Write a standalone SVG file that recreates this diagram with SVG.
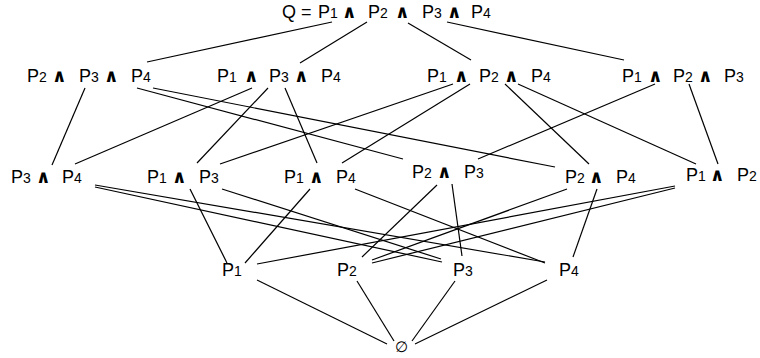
<svg xmlns="http://www.w3.org/2000/svg" width="760" height="358" viewBox="0 0 760 358">
<style>
.t{font-family:"Liberation Sans",Arial,Helvetica,sans-serif;font-size:18px;fill:#000}
.s{font-size:14px}
.a{font-family:"DejaVu Sans",sans-serif;font-weight:bold;font-size:18px}
.e line{stroke:#000;stroke-width:1.2;fill:none}
</style>
<rect width="760" height="358" fill="#fff"/>
<g class="e" id="connectors">
<line x1="332" y1="22" x2="147" y2="62"/>
<line x1="367" y1="22" x2="300" y2="63"/>
<line x1="408" y1="23" x2="471" y2="60"/>
<line x1="447" y1="22" x2="624" y2="60"/>
<line x1="85" y1="88" x2="52" y2="165"/>
<line x1="137" y1="88" x2="403" y2="159"/>
<line x1="153" y1="88" x2="555" y2="167"/>
<line x1="252" y1="88" x2="75" y2="164"/>
<line x1="268" y1="88" x2="197" y2="163"/>
<line x1="285" y1="88" x2="317" y2="163"/>
<line x1="453" y1="84" x2="220" y2="164"/>
<line x1="470" y1="84" x2="342" y2="163"/>
<line x1="505" y1="84" x2="589" y2="164"/>
<line x1="518" y1="84" x2="696" y2="164"/>
<line x1="655" y1="84" x2="478" y2="159"/>
<line x1="689" y1="84" x2="718" y2="164"/>
<line x1="95" y1="185" x2="545" y2="262"/>
<line x1="95" y1="187" x2="442" y2="262"/>
<line x1="190" y1="189" x2="227" y2="263"/>
<line x1="222" y1="189" x2="441" y2="259"/>
<line x1="310" y1="189" x2="245" y2="263"/>
<line x1="355" y1="189" x2="545" y2="263"/>
<line x1="437" y1="185" x2="362" y2="257"/>
<line x1="452" y1="184" x2="462" y2="256"/>
<line x1="567" y1="189" x2="372" y2="260"/>
<line x1="597" y1="189" x2="573" y2="257"/>
<line x1="675" y1="186" x2="257" y2="264"/>
<line x1="675" y1="188" x2="372" y2="263"/>
<line x1="257" y1="280" x2="387" y2="344"/>
<line x1="357" y1="281" x2="394" y2="341"/>
<line x1="455" y1="281" x2="412" y2="341"/>
<line x1="547" y1="280" x2="415" y2="344"/>
</g>
<g id="n-q"><text class="t" y="18"><tspan x="282">Q =</tspan><tspan x="318">P</tspan><tspan class="s">1</tspan><tspan class="a" x="342">∧</tspan><tspan x="368">P</tspan><tspan class="s">2</tspan><tspan class="a" x="395">∧</tspan><tspan x="422">P</tspan><tspan class="s">3</tspan><tspan class="a" x="447">∧</tspan><tspan x="471">P</tspan><tspan class="s">4</tspan></text></g>
<g id="n-p234"><text class="t" y="82"><tspan x="27">P</tspan><tspan class="s">2</tspan><tspan class="a" x="52">∧</tspan><tspan x="79">P</tspan><tspan class="s">3</tspan><tspan class="a" x="104">∧</tspan><tspan x="131">P</tspan><tspan class="s">4</tspan></text></g>
<g id="n-p134"><text class="t" y="82"><tspan x="217">P</tspan><tspan class="s">1</tspan><tspan class="a" x="244">∧</tspan><tspan x="269">P</tspan><tspan class="s">3</tspan><tspan class="a" x="294">∧</tspan><tspan x="321">P</tspan><tspan class="s">4</tspan></text></g>
<g id="n-p124"><text class="t" y="82"><tspan x="427">P</tspan><tspan class="s">1</tspan><tspan class="a" x="454">∧</tspan><tspan x="479">P</tspan><tspan class="s">2</tspan><tspan class="a" x="504">∧</tspan><tspan x="531">P</tspan><tspan class="s">4</tspan></text></g>
<g id="n-p123"><text class="t" y="82"><tspan x="622">P</tspan><tspan class="s">1</tspan><tspan class="a" x="648">∧</tspan><tspan x="673">P</tspan><tspan class="s">2</tspan><tspan class="a" x="698">∧</tspan><tspan x="724">P</tspan><tspan class="s">3</tspan></text></g>
<g id="n-p34"><text class="t" y="183"><tspan x="11">P</tspan><tspan class="s">3</tspan><tspan class="a" x="36">∧</tspan><tspan x="62">P</tspan><tspan class="s">4</tspan></text></g>
<g id="n-p13"><text class="t" y="183"><tspan x="147">P</tspan><tspan class="s">1</tspan><tspan class="a" x="172">∧</tspan><tspan x="199">P</tspan><tspan class="s">3</tspan></text></g>
<g id="n-p14"><text class="t" y="183"><tspan x="284">P</tspan><tspan class="s">1</tspan><tspan class="a" x="309">∧</tspan><tspan x="336">P</tspan><tspan class="s">4</tspan></text></g>
<g id="n-p23"><text class="t" y="178"><tspan x="412">P</tspan><tspan class="s">2</tspan><tspan class="a" x="437">∧</tspan><tspan x="464">P</tspan><tspan class="s">3</tspan></text></g>
<g id="n-p24"><text class="t" y="183"><tspan x="565">P</tspan><tspan class="s">2</tspan><tspan class="a" x="589">∧</tspan><tspan x="616">P</tspan><tspan class="s">4</tspan></text></g>
<g id="n-p12"><text class="t" y="181"><tspan x="686">P</tspan><tspan class="s">1</tspan><tspan class="a" x="710">∧</tspan><tspan x="737">P</tspan><tspan class="s">2</tspan></text></g>
<g id="n-p1"><text class="t" x="222" y="276">P<tspan class="s">1</tspan></text></g>
<g id="n-p2"><text class="t" x="337" y="276">P<tspan class="s">2</tspan></text></g>
<g id="n-p3"><text class="t" x="453" y="276">P<tspan class="s">3</tspan></text></g>
<g id="n-p4"><text class="t" x="559" y="276">P<tspan class="s">4</tspan></text></g>
<g id="n-empty"><text class="t" x="401" y="352" text-anchor="middle" style="font-size:15px">∅</text></g>
</svg>
